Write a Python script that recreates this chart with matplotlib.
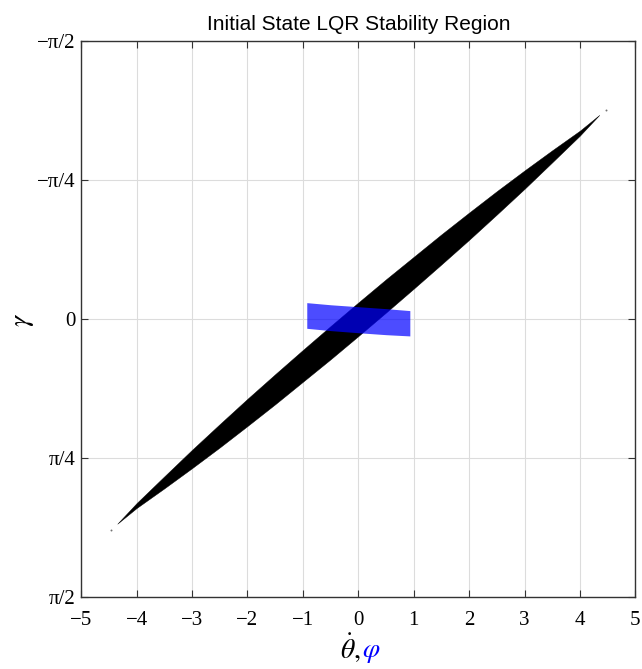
import matplotlib
matplotlib.use("Agg")
import matplotlib.pyplot as plt
import numpy as np

plt.rcParams['mathtext.fontset'] = 'stix'

x_st = [-4.35, -4.0, -3.5, -3.0, -2.5, -2.0, -1.5, -1.0, -0.5, 0.0,
        0.5, 1.0, 1.5, 2.0, 2.5, 3.0, 3.5, 4.0, 4.35]
g_up = [1.155, 1.038, 0.887, 0.737, 0.592, 0.449, 0.310, 0.173, 0.038, -0.095,
        -0.226, -0.353, -0.480, -0.603, -0.724, -0.841, -0.955, -1.066, -1.155]
g_lo = [1.155, 1.066, 0.955, 0.841, 0.724, 0.603, 0.480, 0.353, 0.226, 0.095,
        -0.038, -0.173, -0.310, -0.449, -0.592, -0.737, -0.887, -1.038, -1.155]
# stray points near the tips
x_dot = [-4.46, 4.47]
g_dot = [1.19, -1.18]

# blue region (phi)
x_phi = [-0.93, -0.5, 0.0, 0.5, 0.93]
phi_up = [-0.094, -0.082, -0.071, -0.060, -0.049]
phi_lo = [0.051, 0.064, 0.076, 0.087, 0.094]

xt = [-5, -4, -3, -2, -1, 0, 1, 2, 3, 4, 5]
yt = [-np.pi/2, -np.pi/4, 0, np.pi/4, np.pi/2]
yt_lab = ["\u2212\u03c0/2", "\u2212\u03c0/4", "0", "\u03c0/4", "\u03c0/2"]

fig = plt.figure(figsize=(6.42, 6.69), dpi=100)
ax = fig.add_axes([0.1266, 0.1072, 0.863, 0.8311])

ax.fill_between(x_st, g_up, g_lo, color="k", lw=0.3, edgecolor="k", zorder=2)
ax.plot(x_dot, g_dot, "o", ms=1.4, color="0.45", mew=0, zorder=2)
ax.fill_between(x_phi, phi_up, phi_lo, color="#0000ff", alpha=0.7, lw=0, zorder=3)

ax.set_xlim(-5, 5)
ax.set_ylim(np.pi/2, -np.pi/2)
ax.set_xticks(xt)
ax.set_xticklabels(["\u2212" + str(-v) if v < 0 else str(v) for v in xt])
ax.set_yticks(yt)
ax.set_yticklabels(yt_lab)
ax.grid(True, color="#dcdcdc", lw=0.8, zorder=0)
ax.set_axisbelow(True)
ax.tick_params(direction="in", length=5, width=0.8, color="#333333",
               top=True, right=True, labelsize=15)
ax.tick_params(axis="x", pad=10)
ax.tick_params(axis="y", pad=4)
for lab in ax.get_xticklabels() + ax.get_yticklabels():
    lab.set_fontfamily(["Liberation Serif", "DejaVu Serif"])
for s in ax.spines.values():
    s.set_color("#333333")
    s.set_linewidth(1.0)

ax.set_title("Initial State LQR Stability Region", fontsize=15,
             family="Liberation Sans", pad=8)

fig.text(0.5625, 0.031, r"$\dot{\theta},$", fontsize=20, ha="right", va="center")
fig.text(0.5645, 0.027, r"$\varphi$", fontsize=20, ha="left", va="center", color="#0000ff")
fig.text(0.034, 1 - 320/669, r"$\gamma$", fontsize=20, rotation=90, ha="center", va="center")

fig.savefig("out.png", dpi=100)
